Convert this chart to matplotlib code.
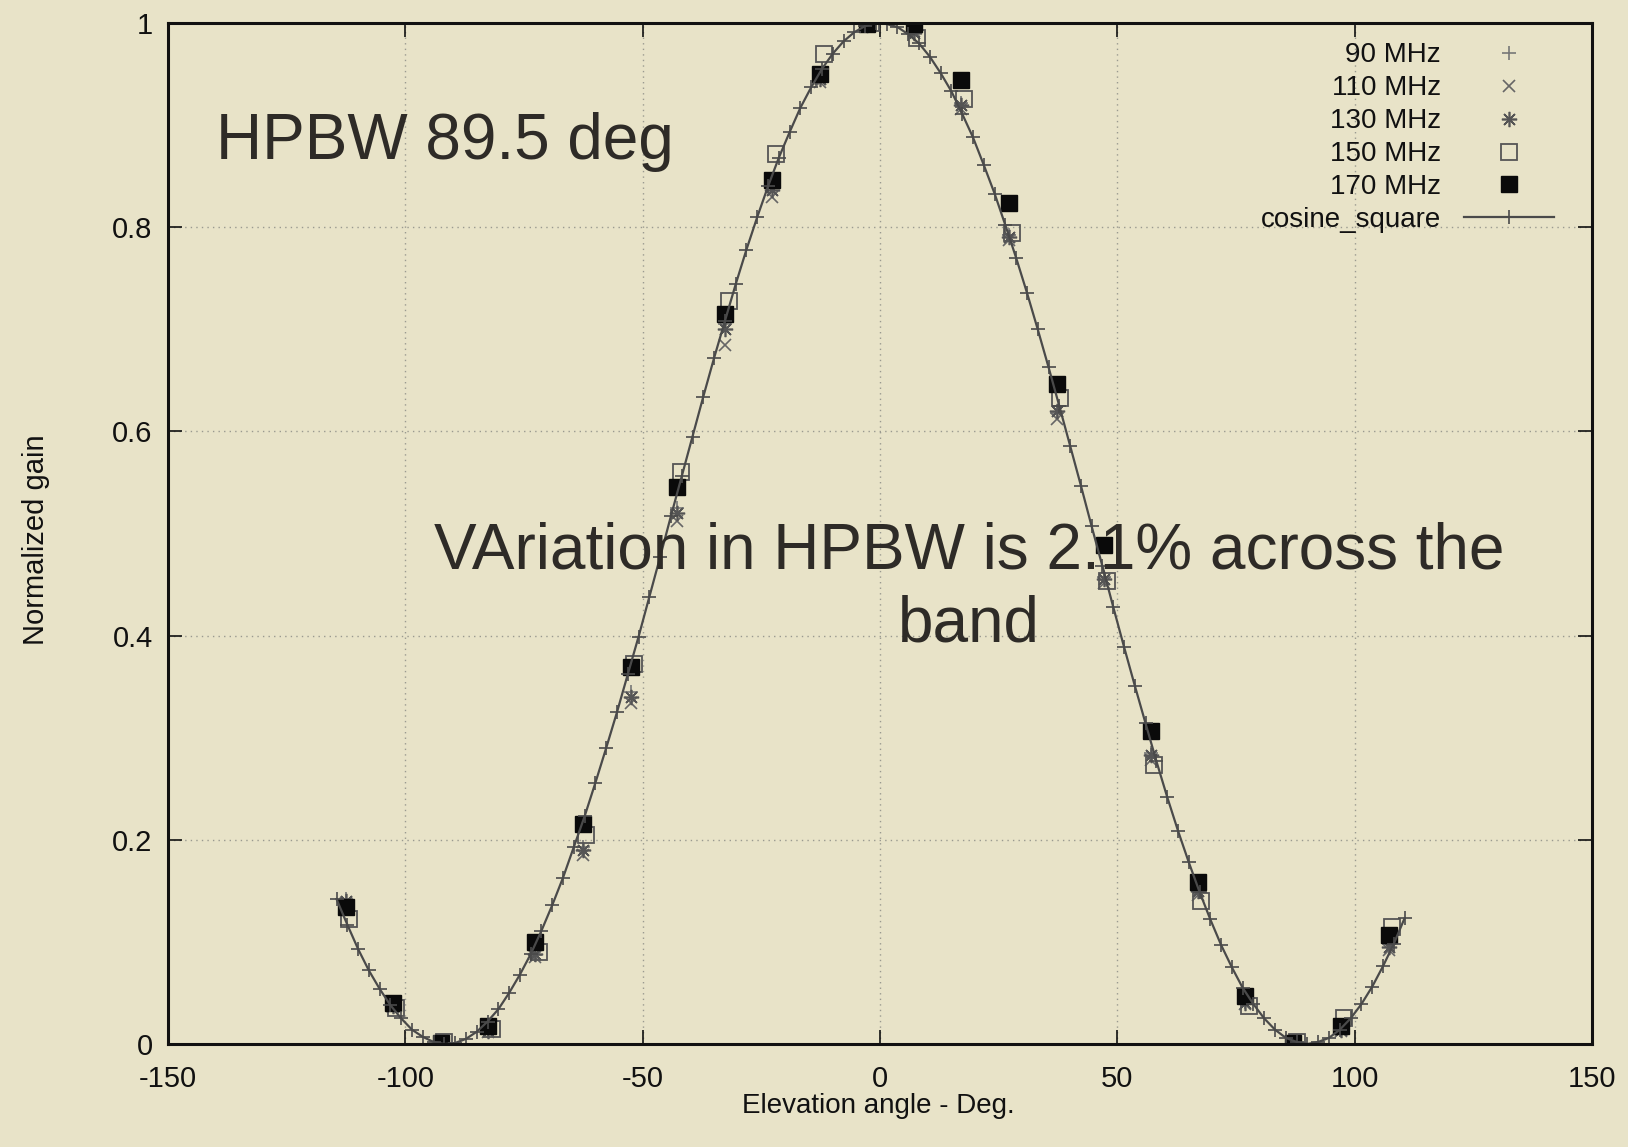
import matplotlib
matplotlib.use('Agg')
import matplotlib.pyplot as plt

plt.rcParams['font.family'] = ['Liberation Sans', 'DejaVu Sans']
plt.rcParams['axes.unicode_minus'] = False

# angulos de elevacao medidos (graus)
angulo = [-112.6, -102.6, -92.5, -82.5, -72.6, -62.6, -52.5, -42.7, -32.6, -22.7, -12.6, -2.7,
          7.1, 17.1, 27.2, 37.2, 47.1, 57.0, 67.0, 77.0, 87.1, 97.1, 107.2]
angulo_150 = [-111.9, -101.9, -91.8, -81.8, -71.9, -61.9, -51.8, -42.0, -31.9, -22.0, -11.9, -2.0,
              7.8, 17.8, 27.9, 37.9, 47.8, 57.7, 67.7, 77.7, 87.8, 97.8, 107.9]

# ganho normalizado por frequencia
ganho_90 = [0.142, 0.038, 0.001, 0.013, 0.087, 0.193, 0.345, 0.525, 0.705, 0.840, 0.948, 0.999,
            0.991, 0.922, 0.792, 0.618, 0.457, 0.285, 0.152, 0.041, 0.001, 0.015, 0.098]
ganho_110 = [0.138, 0.036, 0.001, 0.012, 0.085, 0.185, 0.334, 0.512, 0.685, 0.830, 0.942, 0.998,
             0.992, 0.916, 0.787, 0.612, 0.452, 0.278, 0.146, 0.039, 0.001, 0.013, 0.092]
ganho_130 = [0.140, 0.037, 0.001, 0.013, 0.088, 0.190, 0.340, 0.520, 0.700, 0.836, 0.945, 0.998,
             0.990, 0.920, 0.790, 0.620, 0.455, 0.283, 0.150, 0.040, 0.001, 0.014, 0.095]
ganho_150 = [0.122, 0.035, 0.002, 0.015, 0.090, 0.205, 0.372, 0.560, 0.728, 0.872, 0.970, 1.000,
             0.985, 0.926, 0.794, 0.633, 0.453, 0.273, 0.140, 0.037, 0.002, 0.025, 0.115]
ganho_170 = [0.134, 0.040, 0.001, 0.018, 0.100, 0.215, 0.369, 0.546, 0.715, 0.846, 0.950, 0.999,
             0.999, 0.944, 0.824, 0.646, 0.489, 0.307, 0.159, 0.047, 0.001, 0.018, 0.107]

# curva de referencia cosine_square
cos_x = [-114.50, -112.23, -109.95, -107.68, -105.41, -103.14, -100.86, -98.59, -96.32, -94.05,
         -91.77, -89.50, -87.23, -84.95, -82.68, -80.41, -78.14, -75.86, -73.59, -71.32,
         -69.05, -66.77, -64.50, -62.23, -59.95, -57.68, -55.41, -53.14, -50.86, -48.59,
         -46.32, -44.05, -41.77, -39.50, -37.23, -34.95, -32.68, -30.41, -28.14, -25.86,
         -23.59, -21.32, -19.05, -16.77, -14.50, -12.23, -9.95, -7.68, -5.41, -3.14,
         -0.86, 1.41, 3.68, 5.95, 8.23, 10.50, 12.77, 15.05, 17.32, 19.59,
         21.86, 24.14, 26.41, 28.68, 30.95, 33.23, 35.50, 37.77, 40.05, 42.32,
         44.59, 46.86, 49.14, 51.41, 53.68, 55.95, 58.23, 60.50, 62.77, 65.05,
         67.32, 69.59, 71.86, 74.14, 76.41, 78.68, 80.95, 83.23, 85.50, 87.77,
         90.05, 92.32, 94.59, 96.86, 99.14, 101.41, 103.68, 105.95, 108.23, 110.50]
cos_y = [0.142, 0.117, 0.093, 0.072, 0.054, 0.038, 0.025, 0.014, 0.007, 0.002,
         0.000, 0.001, 0.005, 0.012, 0.022, 0.034, 0.050, 0.068, 0.088, 0.111,
         0.136, 0.163, 0.193, 0.223, 0.256, 0.290, 0.325, 0.362, 0.399, 0.438,
         0.477, 0.517, 0.556, 0.595, 0.634, 0.672, 0.708, 0.744, 0.778, 0.810,
         0.840, 0.868, 0.893, 0.917, 0.937, 0.955, 0.970, 0.982, 0.991, 0.997,
         1.000, 0.999, 0.996, 0.989, 0.980, 0.967, 0.951, 0.933, 0.911, 0.888,
         0.861, 0.833, 0.802, 0.770, 0.736, 0.700, 0.663, 0.625, 0.586, 0.547,
         0.507, 0.468, 0.428, 0.389, 0.351, 0.314, 0.277, 0.242, 0.209, 0.178,
         0.149, 0.122, 0.097, 0.075, 0.055, 0.039, 0.025, 0.014, 0.006, 0.002,
         0.000, 0.002, 0.006, 0.014, 0.025, 0.039, 0.056, 0.076, 0.098, 0.123]

fundo = '#e8e3c8'
fig = plt.figure(figsize=(16.28, 11.47), dpi=100, facecolor=fundo)
ax = fig.add_axes([168 / 1628, 1 - 1044 / 1147, (1592 - 168) / 1628, (1044 - 23) / 1147])
ax.set_facecolor(fundo)

ax.plot(angulo, ganho_90, ls='none', marker='+', ms=10, mew=1.2, color='#777777', label='90 MHz')
ax.plot(angulo, ganho_110, ls='none', marker='x', ms=9, mew=1.2, color='#666666', label='110 MHz')
ax.plot(angulo, ganho_130, ls='none', marker=(8, 2, 0), ms=11, mew=1.2, color='#555555', label='130 MHz')
ax.plot(angulo_150, ganho_150, ls='none', marker='s', ms=11, mew=1.3, mfc='none', mec='#555555',
        label='150 MHz')
ax.plot(angulo, ganho_170, ls='none', marker='s', ms=11, color='#0a0a0a', label='170 MHz')
ax.plot(cos_x, cos_y, '-', marker='+', ms=10, mew=1.2, lw=1.6, color='#4a4a4a', label='cosine_square')

ax.set_xlim(-150, 150)
ax.set_ylim(0, 1)
ax.set_xticks([-150, -100, -50, 0, 50, 100, 150])
ax.set_yticks([0, 0.2, 0.4, 0.6, 0.8, 1])
ax.set_yticklabels(['0', '0.2', '0.4', '0.6', '0.8', '1'])
ax.tick_params(direction='in', length=10, width=1.2, top=True, right=True, labelsize=21, colors='#111111')
ax.tick_params(axis='x', pad=15)
ax.tick_params(axis='y', pad=11)
for s in ax.spines.values():
    s.set_linewidth(2.2)
    s.set_color('#111111')
ax.grid(True, color='#9a9a90', ls=(0, (1, 3)), lw=1.0)

ax.set_xlabel('Elevation angle - Deg.', fontsize=20, color='#111111')
ax.set_ylabel('Normalized gain', fontsize=21, color='#111111')
ax.xaxis.set_label_coords((878 - 168) / (1592 - 168), (1044 - 1093) / (1044 - 23))
ax.yaxis.set_label_coords((50 - 168) / (1592 - 168), (1044 - 540) / (1044 - 23))

leg = ax.legend(loc='upper right', bbox_to_anchor=(0.9733, 0.981), frameon=False, markerfirst=False,
                numpoints=1, fontsize=20, handlelength=3.24, handletextpad=0.83, labelspacing=0.25,
                borderaxespad=0, borderpad=0)
# textos da legenda alinhados a direita, junto dos simbolos
fig.canvas.draw()
renderer = fig.canvas.get_renderer()
caixas = [t.get_window_extent(renderer) for t in leg.get_texts()]
direita = max(b.x1 for b in caixas)
for t, b in zip(leg.get_texts(), caixas):
    fig.text(direita, b.y0, t.get_text(), transform=None, ha='right', va='bottom', fontsize=20,
             color='#111111')
    t.set_alpha(0)

fig.text(216 / 1628, 1 - 159 / 1147, 'HPBW 89.5 deg', fontsize=46, color='#2e2b27', va='baseline')
fig.text(969 / 1628, 1 - 569 / 1147, 'VAriation in HPBW is 2.1% across the', fontsize=46,
         color='#2e2b27', ha='center', va='baseline')
fig.text(969 / 1628, 1 - 642 / 1147, 'band', fontsize=46, color='#2e2b27', ha='center', va='baseline')

fig.savefig('out.png', dpi=100, facecolor=fundo)
